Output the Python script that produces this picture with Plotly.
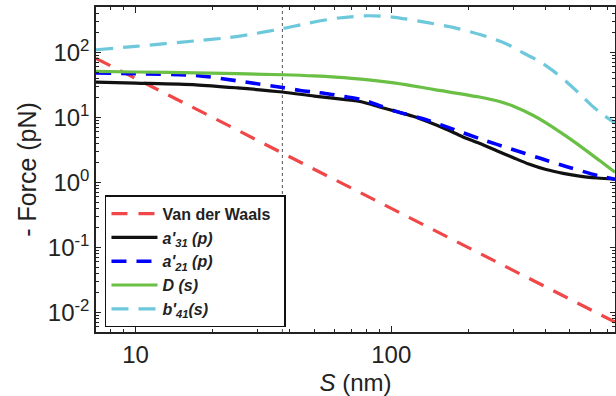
import plotly.graph_objects as go

# ---- data ----
vdw_s = [7, 10, 20, 37.5, 100, 200, 400, 750]
vdw_f = [81, 40, 10, 2.83, 0.40, 0.10, 0.025, 0.0071]

a31_s = [7, 10, 17.2, 25, 37.5, 50, 65, 77, 90, 105, 121.6, 140, 164, 190, 221, 260, 299, 345, 403, 470, 545, 640, 750]
a31_f = [35, 33.8, 31.8, 28.5, 24.6, 21.3, 18.9, 17.3, 14.5, 12.3, 10.4, 8.5, 6.6, 5.05, 4.0, 3.05, 2.42, 1.92, 1.58, 1.38, 1.25, 1.17, 1.12]

a21_s = [7, 10, 17.2, 26.9, 37.5, 44, 50, 57, 65, 77, 90, 104.5, 137, 177, 228, 294, 380, 490, 641, 750]
a21_f = [48.2, 47, 44.3, 35, 28.9, 26.0, 24.5, 23.0, 21.0, 18.7, 15.2, 12.4, 9.2, 6.46, 4.54, 3.27, 2.37, 1.73, 1.28, 1.12]

d_s = [7, 10, 17.2, 37.5, 50, 70, 104, 146, 221, 265, 299, 358, 403, 483, 545, 653, 750]
d_f = [51, 50, 48.5, 45.4, 43.5, 40, 33.8, 27, 20.6, 17.6, 15.0, 10.8, 8.26, 5.15, 3.68, 2.17, 1.44]

b41_s = [7, 10, 17.2, 22.5, 28.6, 37.5, 47.6, 62.3, 81.7, 101, 137, 179, 224, 277, 330, 380, 430, 483, 540, 614, 673, 750]
b41_f = [110, 124, 151, 167, 192, 232, 283, 339, 367, 350, 290, 237, 187, 140, 97, 72.6, 52, 35.8, 24, 14.8, 11.0, 8.3]

s_mark = 37.5

y_tickvals = [0.01, 0.1, 1, 10, 100]
y_ticktext = ["10<sup>-2</sup>", "10<sup>-1</sup>", "10<sup>0</sup>", "10<sup>1</sup>", "10<sup>2</sup>"]
x_tickvals = [10, 100]
x_ticktext = ["10", "100"]

legend_names = ["<b>Van der Waals\u00a0\u00a0</b>",
                "<b><i>a'<sub>31</sub> (p)</i></b>",
                "<b><i>a'<sub>21</sub> (p)</i></b>",
                "<b><i>D (s)</i></b>",
                "<b><i>b'<sub>41</sub>(s)</i></b>"]

FONT = "Liberation Sans"
AXC = "#222222"
SPL = dict(shape="spline", smoothing=0.8)

fig = go.Figure()
fig.add_trace(go.Scatter(x=vdw_s, y=vdw_f, mode="lines", name=legend_names[0],
                         line=dict(color="#f04848", width=3.2, dash="16px,11px")))
fig.add_trace(go.Scatter(x=a31_s, y=a31_f, mode="lines", name=legend_names[1],
                         line=dict(color="#111111", width=3.2, **SPL)))
fig.add_trace(go.Scatter(x=a21_s, y=a21_f, mode="lines", name=legend_names[2],
                         line=dict(color="#0000ff", width=3.6, dash="15px,10px", **SPL)))
fig.add_trace(go.Scatter(x=d_s, y=d_f, mode="lines", name=legend_names[3],
                         line=dict(color="#6abf45", width=3.2, **SPL)))
fig.add_trace(go.Scatter(x=b41_s, y=b41_f, mode="lines", name=legend_names[4],
                         line=dict(color="#6cc8da", width=3.2, dash="17px,10px", **SPL)))

fig.add_shape(type="line", xref="x", yref="paper", x0=s_mark, x1=s_mark, y0=0, y1=1,
              line=dict(color="#555555", width=1, dash="dot"), layer="below")

minor_x = [k * 10 ** e for e in range(0, 3) for k in range(2, 10)]
minor_y = [k * 10 ** e for e in range(-3, 3) for k in range(2, 10)]

fig.update_xaxes(type="log", range=[0.8451, 2.8751], tickmode="array", tickvals=x_tickvals,
                 ticktext=x_ticktext, ticks="inside", ticklen=6, tickwidth=1.2, tickcolor=AXC,
                 showline=True, linecolor=AXC, linewidth=1.5, mirror="ticks", showgrid=False,
                 zeroline=False, automargin=False, tickfont=dict(family=FONT, size=24, color=AXC),
                 minor=dict(tickmode="array", tickvals=minor_x, ticks="inside", ticklen=3,
                            tickwidth=1, tickcolor=AXC, showgrid=False),
                 title=dict(text="<i>S</i> (nm)", font=dict(family=FONT, size=24, color=AXC), standoff=23))
fig.update_yaxes(type="log", range=[-2.301, 2.699], tickmode="array", tickvals=y_tickvals,
                 ticktext=y_ticktext, ticks="inside", ticklen=5, tickwidth=1.2, tickcolor=AXC,
                 showline=True, linecolor=AXC, linewidth=1.5, mirror="ticks", showgrid=False,
                 zeroline=False, automargin=False, tickfont=dict(family=FONT, size=24, color=AXC),
                 minor=dict(tickmode="array", tickvals=minor_y, ticks="inside", ticklen=3,
                            tickwidth=1, tickcolor=AXC, showgrid=False),
                 title=dict(text="- Force (pN)", font=dict(family=FONT, size=25, color=AXC), standoff=4))

fig.update_layout(
    width=616, height=396,
    margin=dict(l=96, r=1, t=7, b=64),
    paper_bgcolor="white", plot_bgcolor="white",
    showlegend=True,
    legend=dict(x=0.0173, y=0.421, xanchor="left", yanchor="top",
                bgcolor="white", bordercolor="#111111", borderwidth=1.5,
                font=dict(family=FONT, size=16, color=AXC),
                tracegroupgap=0, itemwidth=46),
)

# remove the browser's default 8px body margin so the figure sits at the page origin
fig.write_html("out.html", config={"displayModeBar": False},
               post_script="document.body.style.margin='0px';document.body.style.overflow='hidden';")
